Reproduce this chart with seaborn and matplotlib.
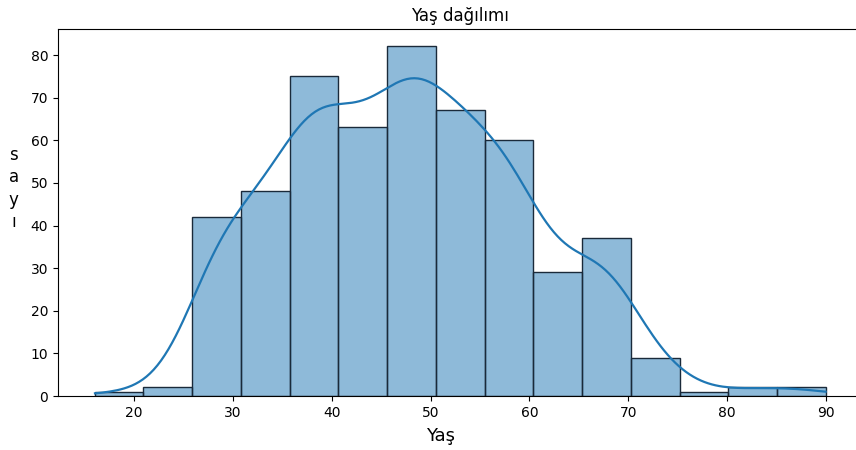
import matplotlib
matplotlib.use('Agg')
import matplotlib.pyplot as plt
import numpy as np
import pandas as pd
import seaborn as sns

# histogram: 15 bins from 16 to 90
bin_edges = list(np.linspace(16, 90, 16))
counts = [1, 2, 42, 48, 75, 63, 82, 67, 60, 29, 37, 9, 1, 2, 2]
bin_centers = [(a + b) / 2 for a, b in zip(bin_edges[:-1], bin_edges[1:])]

df = pd.DataFrame({'yas': bin_centers, 'sayi': counts})

fig = plt.figure(figsize=(8.56, 4.5), dpi=100)
ax = fig.add_axes([58 / 856, 54 / 450, 804.6 / 856, 367 / 450])

sns.histplot(data=df, x='yas', weights='sayi', bins=bin_edges, kde=True,
             kde_kws=dict(cut=0.45, bw_adjust=0.42), line_kws=dict(linewidth=1.6),
             edgecolor='#1a2a3a', ax=ax)

ax.set_xlim(12.3, 93.7)
ax.set_title('Yaş dağılımı', fontsize=12)
ax.set_xlabel('Yaş', fontsize=13)
ax.xaxis.set_label_coords(0.475, -0.085)
ax.set_ylabel('s\na\ny\nı', rotation=0, fontsize=12, linespacing=1.3)
ax.yaxis.set_label_coords(-0.055, 0.45)
ax.tick_params(labelsize=10)
ax.set_xticks(range(20, 91, 10))
ax.set_yticks(range(0, 81, 10))

fig.savefig('out.png', dpi=100)
